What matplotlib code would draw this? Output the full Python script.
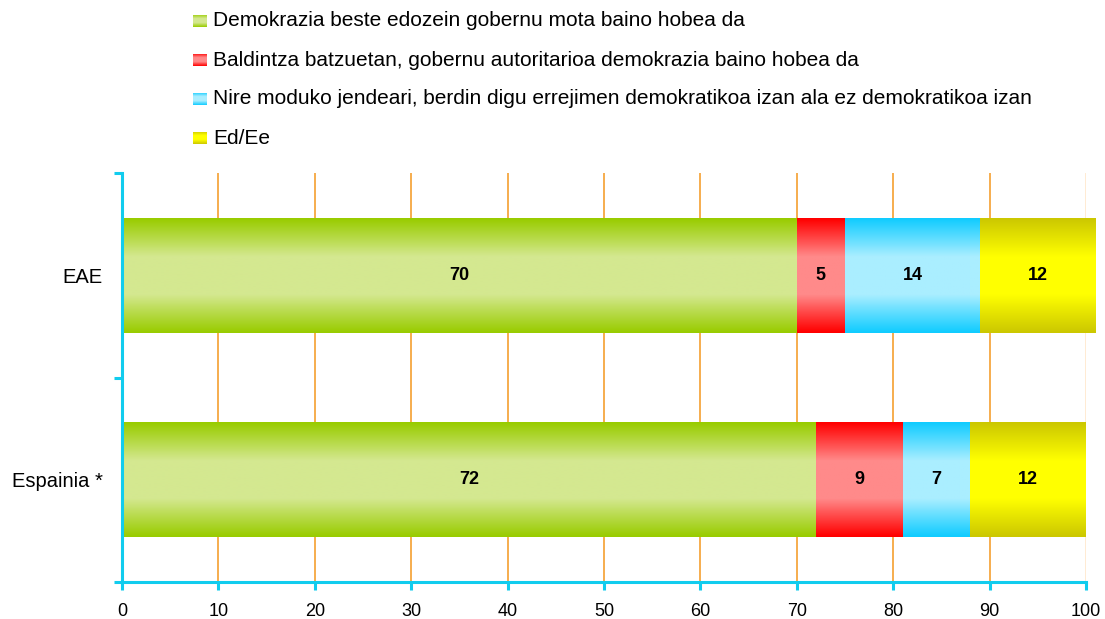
import numpy as np
import matplotlib
matplotlib.use("Agg")
import matplotlib.pyplot as plt
from matplotlib.colors import LinearSegmentedColormap

plt.rcParams['font.family'] = ['Liberation Sans', 'DejaVu Sans']

categories = ["EAE", "Espainia *"]
series_names = [
    "Demokrazia beste edozein gobernu mota baino hobea da",
    "Baldintza batzuetan, gobernu autoritarioa demokrazia baino hobea da",
    "Nire moduko jendeari, berdin digu errejimen demokratikoa izan ala ez demokratikoa izan",
    "Ed/Ee",
]
eae = [70, 5, 14, 12]
espainia = [72, 9, 7, 12]
values = [eae, espainia]
xticks = [0, 10, 20, 30, 40, 50, 60, 70, 80, 90, 100]

edge_cols = ["#99CC00", "#FF0000", "#11CCFF", "#CCC800"]
mid_cols = ["#D4E890", "#FF8A8A", "#AAEEFF", "#FFFF00"]

W, H = 1105, 619
fig = plt.figure(figsize=(W / 100, H / 100), dpi=100)
ax = fig.add_axes([122 / W, 1 - 582 / H, (1086 - 122) / W, (582 - 173) / H])

def grad_img(i, n=64):
    cmap = LinearSegmentedColormap.from_list("g", [edge_cols[i], mid_cols[i], mid_cols[i], edge_cols[i]])
    g = np.linspace(0, 1, n).reshape(-1, 1)
    return cmap(g)

ypos = [1.5, 0.5]
bar_h = 0.56
for ci, cat in enumerate(categories):
    left = 0
    for si, v in enumerate(values[ci]):
        bars = ax.barh(ypos[ci], v, left=left, height=bar_h, color='none', edgecolor='none', zorder=3, clip_on=False)
        b = bars[0]
        x0, y0 = b.get_x(), b.get_y()
        x1, y1 = x0 + b.get_width(), y0 + b.get_height()
        im = ax.imshow(grad_img(si), extent=[x0, x1, y0, y1], aspect='auto', zorder=3,
                       interpolation='bilinear', origin='lower')
        im.set_clip_on(False)
        ax.text((x0 + x1) / 2, ypos[ci], str(v), ha='center', va='center',
                fontsize=13, fontweight='bold', color='black', zorder=5)
        left += v

ax.set_xlim(0, 100)
ax.set_ylim(0, 2)

# grid
for xv in xticks[1:]:
    col = "#FFE8CC" if xv == 100 else "#F5A030"
    ax.axvline(xv, color=col, lw=1.2, zorder=1)

for s in ['top', 'right']:
    ax.spines[s].set_visible(False)
for s in ['left', 'bottom']:
    ax.spines[s].set_color("#11CCEE")
    ax.spines[s].set_linewidth(2.2)
    ax.spines[s].set_zorder(4)

ax.set_xticks(xticks)
ax.set_xticklabels([str(t) for t in xticks])
ax.set_yticks([0, 1, 2])
ax.set_yticklabels([])
ax.set_yticks(ypos, minor=True)
ax.set_yticklabels(categories, minor=True)
ax.tick_params(axis='x', which='major', direction='out', length=6, width=2.2, color="#11CCEE",
               labelsize=13, pad=9, labelcolor='black')
ax.tick_params(axis='y', which='major', direction='out', length=6, width=2.2, color="#11CCEE")
ax.tick_params(axis='y', which='minor', length=0, labelsize=14.5, pad=14, labelcolor='black')

# legend (manual)
leg_y = [21, 60, 99, 138]
for i, name in enumerate(series_names):
    yc = leg_y[i]
    lax = fig.add_axes([193 / W, 1 - (yc + 6.5) / H, 14 / W, 13 / H])
    lax.imshow(grad_img(i), aspect='auto', interpolation='bilinear', origin='lower')
    lax.axis('off')
    fig.text(213 / W, 1 - yc / H, name, ha='left', va='center', fontsize=15, color='black')

fig.savefig("out.png", dpi=100)
